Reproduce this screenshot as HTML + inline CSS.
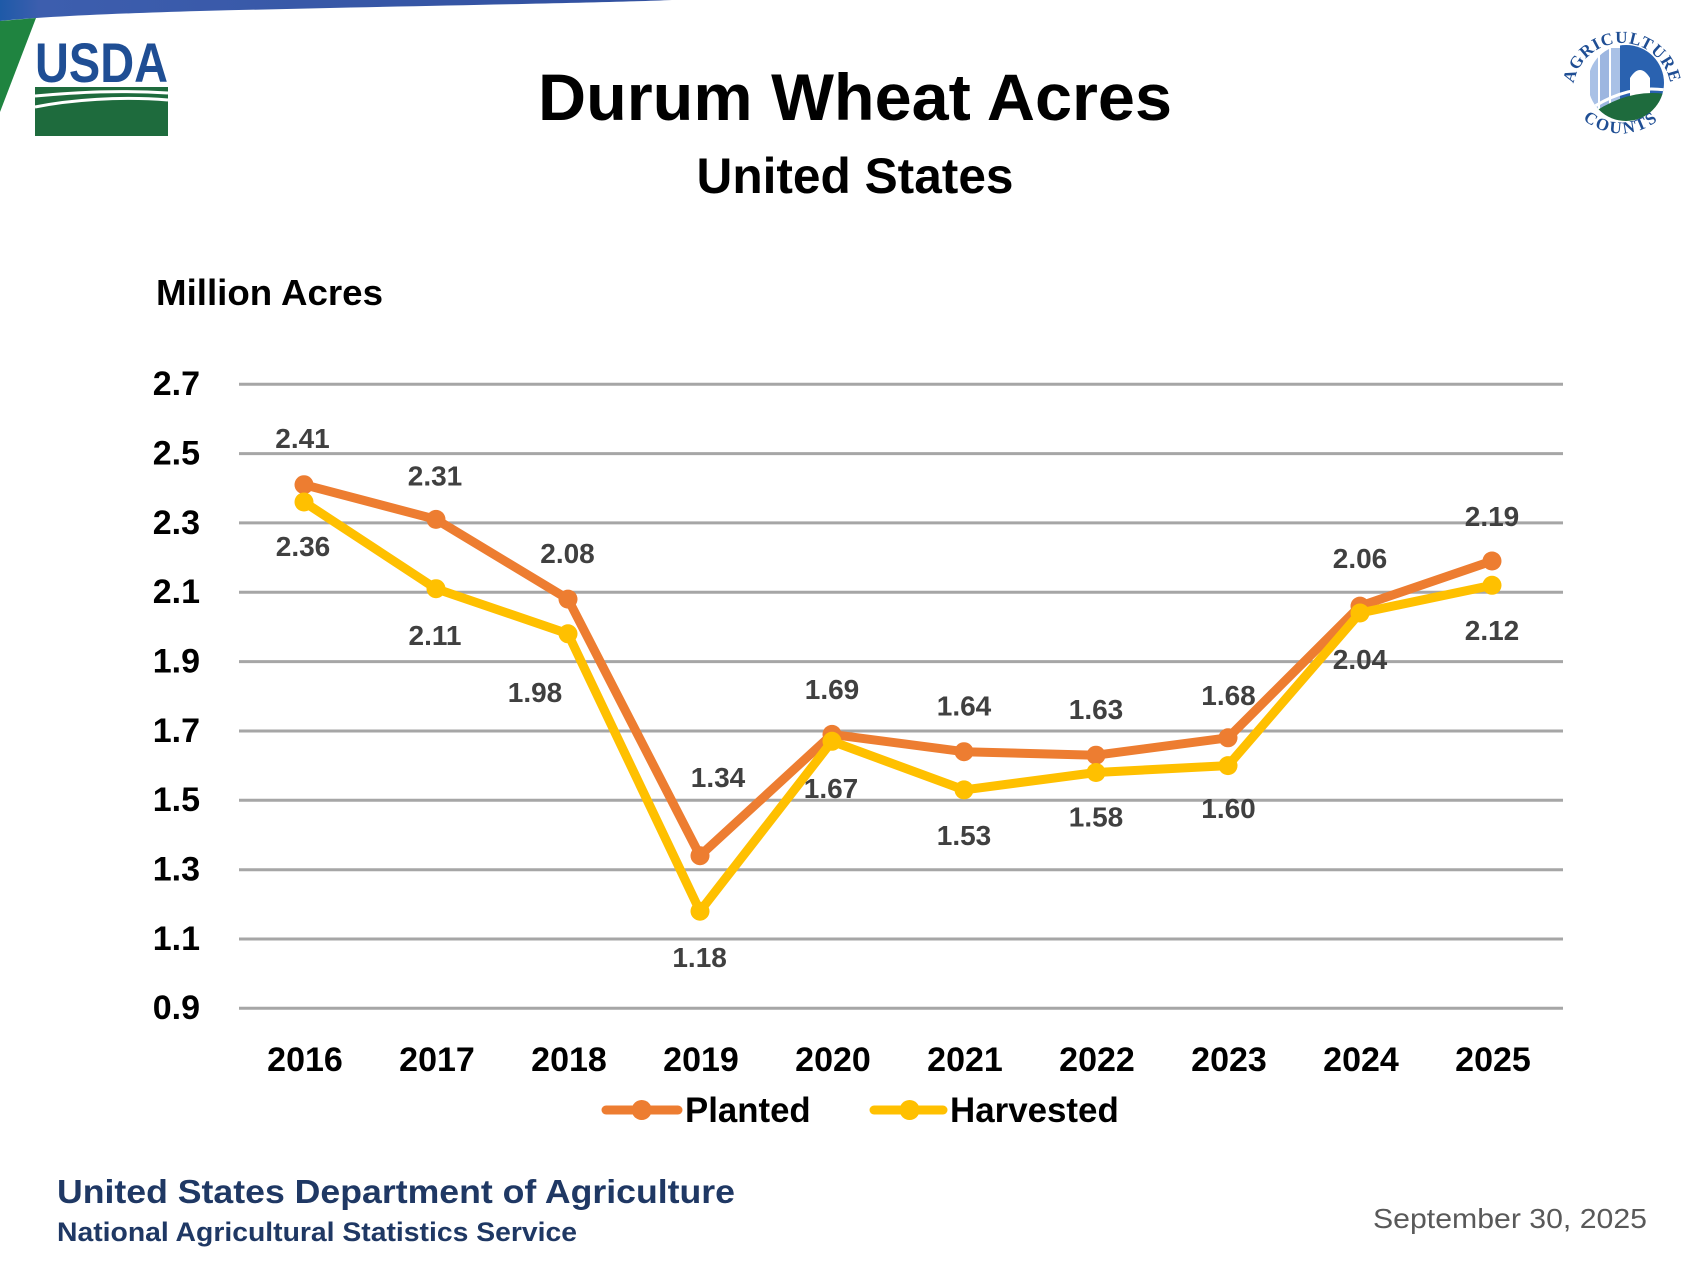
<!DOCTYPE html>
<html>
<head>
<meta charset="utf-8">
<style>
html,body{margin:0;padding:0;background:#fff;}
svg{display:block;}
</style>
</head>
<body>
<svg width="1707" height="1280" viewBox="0 0 1707 1280" xmlns="http://www.w3.org/2000/svg" font-family="'Liberation Sans', sans-serif">
<defs>
  <linearGradient id="band" x1="0" y1="0" x2="1" y2="0">
    <stop offset="0" stop-color="#1e5aa8"/>
    <stop offset="0.06" stop-color="#3d5eae"/>
    <stop offset="1" stop-color="#31509f"/>
  </linearGradient>
  <clipPath id="agc"><circle cx="1626" cy="83" r="38"/></clipPath>
  <path id="arcTop" d="M1573.5,85 A49,49 0 0 1 1670.5,85"/>
  <path id="arcBot" d="M1576,112 A58,58 0 0 0 1666,112"/>
</defs>
<rect width="1707" height="1280" fill="#ffffff"/>

<!-- top banner -->
<path d="M0,0 L672,0 C600,3 400,6 200,11 C100,14 40,17 0,21 Z" fill="url(#band)"/>
<path d="M0,21 L36,18 L0,112 Z" fill="#1f8440"/>

<!-- USDA logo -->
<text x="35" y="82" font-size="56" font-weight="bold" fill="#1f4e94" textLength="133" lengthAdjust="spacingAndGlyphs">USDA</text>
<rect x="35" y="87" width="133" height="49" fill="#1e6b3d"/>
<path d="M35,96 C80,92 120,90 168,93" stroke="#fff" stroke-width="3" fill="none"/>
<path d="M35,107 C70,100 120,96 168,100" stroke="#fff" stroke-width="3" fill="none"/>

<!-- Agriculture Counts logo -->
<g clip-path="url(#agc)">
  <rect x="1586" y="43" width="80" height="82" fill="#ffffff"/>
  <rect x="1590" y="50" width="8" height="70" fill="#a9c1e6"/>
  <rect x="1600" y="44" width="9" height="76" fill="#9db6e0"/>
  <rect x="1611" y="48" width="9" height="72" fill="#a9c1e6"/>
  <rect x="1620" y="43" width="46" height="60" fill="#2a62b0"/>
  <path d="M1630,100 L1630,78 Q1640,62 1650,78 L1650,100 Z" fill="#ffffff"/>
  <path d="M1586,118 Q1625,88 1666,94 L1666,125 L1586,125 Z" fill="#1e6b3d"/>
  <path d="M1586,112 Q1625,84 1666,90" stroke="#fff" stroke-width="3" fill="none"/>
</g>
<text font-family="'Liberation Serif', serif" font-weight="bold" font-size="17" fill="#1f4e94" letter-spacing="1"><textPath href="#arcTop" startOffset="50%" text-anchor="middle">AGRICULTURE</textPath></text>
<text font-family="'Liberation Serif', serif" font-weight="bold" font-size="17" fill="#1f4e94" letter-spacing="2"><textPath href="#arcBot" startOffset="50%" text-anchor="middle">COUNTS</textPath></text>

<!-- titles -->
<text x="855" y="120" font-size="66" font-weight="bold" fill="#000" text-anchor="middle" textLength="634" lengthAdjust="spacingAndGlyphs">Durum Wheat Acres</text>
<text x="855" y="193" font-size="50" font-weight="bold" fill="#000" text-anchor="middle" textLength="317" lengthAdjust="spacingAndGlyphs">United States</text>
<text x="156" y="305" font-size="36" font-weight="bold" fill="#000" textLength="227" lengthAdjust="spacingAndGlyphs">Million Acres</text>

<!-- gridlines -->
<g stroke="#a6a6a6" stroke-width="3">
  <line x1="239" y1="384.2" x2="1563" y2="384.2"/>
  <line x1="239" y1="453.6" x2="1563" y2="453.6"/>
  <line x1="239" y1="522.9" x2="1563" y2="522.9"/>
  <line x1="239" y1="592.3" x2="1563" y2="592.3"/>
  <line x1="239" y1="661.6" x2="1563" y2="661.6"/>
  <line x1="239" y1="731.0" x2="1563" y2="731.0"/>
  <line x1="239" y1="800.3" x2="1563" y2="800.3"/>
  <line x1="239" y1="869.7" x2="1563" y2="869.7"/>
  <line x1="239" y1="939.0" x2="1563" y2="939.0"/>
  <line x1="239" y1="1008.3" x2="1563" y2="1008.3"/>
</g>

<!-- y tick labels -->
<g font-size="34" font-weight="bold" fill="#000" text-anchor="end">
  <text x="200" y="395">2.7</text>
  <text x="200" y="464.5">2.5</text>
  <text x="200" y="534">2.3</text>
  <text x="200" y="603">2.1</text>
  <text x="200" y="672.5">1.9</text>
  <text x="200" y="742">1.7</text>
  <text x="200" y="811">1.5</text>
  <text x="200" y="880.5">1.3</text>
  <text x="200" y="950">1.1</text>
  <text x="200" y="1019">0.9</text>
</g>

<!-- x labels -->
<g font-size="34" font-weight="bold" fill="#000" text-anchor="middle">
  <text x="305" y="1071">2016</text>
  <text x="437" y="1071">2017</text>
  <text x="569" y="1071">2018</text>
  <text x="701" y="1071">2019</text>
  <text x="833" y="1071">2020</text>
  <text x="965" y="1071">2021</text>
  <text x="1097" y="1071">2022</text>
  <text x="1229" y="1071">2023</text>
  <text x="1361" y="1071">2024</text>
  <text x="1493" y="1071">2025</text>
</g>

<!-- Planted series -->
<polyline fill="none" stroke="#ED7D31" stroke-width="9" stroke-linejoin="round" stroke-linecap="round"
  points="304,484.7 436,519.4 568,599.1 700,855.7 832,734.4 964,751.7 1096,755.2 1228,737.8 1360,606.1 1492,561.0"/>
<g fill="#ED7D31">
  <circle cx="304" cy="484.7" r="9.5"/>
  <circle cx="436" cy="519.4" r="9.5"/>
  <circle cx="568" cy="599.1" r="9.5"/>
  <circle cx="700" cy="855.7" r="9.5"/>
  <circle cx="832" cy="734.4" r="9.5"/>
  <circle cx="964" cy="751.7" r="9.5"/>
  <circle cx="1096" cy="755.2" r="9.5"/>
  <circle cx="1228" cy="737.8" r="9.5"/>
  <circle cx="1360" cy="606.1" r="9.5"/>
  <circle cx="1492" cy="561.0" r="9.5"/>
</g>

<!-- Harvested series -->
<polyline fill="none" stroke="#FFC000" stroke-width="9" stroke-linejoin="round" stroke-linecap="round"
  points="304,502.0 436,588.7 568,633.8 700,911.2 832,741.3 964,789.9 1096,772.5 1228,765.6 1360,613.0 1492,585.3"/>
<g fill="#FFC000">
  <circle cx="304" cy="502.0" r="9.5"/>
  <circle cx="436" cy="588.7" r="9.5"/>
  <circle cx="568" cy="633.8" r="9.5"/>
  <circle cx="700" cy="911.2" r="9.5"/>
  <circle cx="832" cy="741.3" r="9.5"/>
  <circle cx="964" cy="789.9" r="9.5"/>
  <circle cx="1096" cy="772.5" r="9.5"/>
  <circle cx="1228" cy="765.6" r="9.5"/>
  <circle cx="1360" cy="613.0" r="9.5"/>
  <circle cx="1492" cy="585.3" r="9.5"/>
</g>

<!-- data labels -->
<g font-size="28" font-weight="bold" fill="#404040" text-anchor="middle">
  <text x="302.5" y="448">2.41</text>
  <text x="435" y="485.5">2.31</text>
  <text x="567.5" y="563">2.08</text>
  <text x="718" y="787">1.34</text>
  <text x="832" y="699">1.69</text>
  <text x="964" y="715.5">1.64</text>
  <text x="1096" y="719">1.63</text>
  <text x="1228.5" y="705">1.68</text>
  <text x="1360" y="568">2.06</text>
  <text x="1492" y="526">2.19</text>

  <text x="303" y="556">2.36</text>
  <text x="435" y="645">2.11</text>
  <text x="535" y="702">1.98</text>
  <text x="699.6" y="967">1.18</text>
  <text x="831" y="798">1.67</text>
  <text x="964" y="845">1.53</text>
  <text x="1096" y="826.7">1.58</text>
  <text x="1228.5" y="818">1.60</text>
  <text x="1360" y="669">2.04</text>
  <text x="1492" y="640">2.12</text>
</g>

<!-- legend -->
<line x1="606" y1="1110" x2="678" y2="1110" stroke="#ED7D31" stroke-width="9" stroke-linecap="round"/>
<circle cx="641.7" cy="1110" r="10" fill="#ED7D31"/>
<text x="685" y="1122" font-size="35" font-weight="bold" fill="#000" textLength="125.7" lengthAdjust="spacingAndGlyphs">Planted</text>
<line x1="874" y1="1110" x2="943" y2="1110" stroke="#FFC000" stroke-width="9" stroke-linecap="round"/>
<circle cx="909.6" cy="1110" r="10" fill="#FFC000"/>
<text x="950" y="1122" font-size="35" font-weight="bold" fill="#000" textLength="168.8" lengthAdjust="spacingAndGlyphs">Harvested</text>

<!-- footer -->
<text x="57" y="1203" font-size="33" font-weight="bold" fill="#1f3864" textLength="678" lengthAdjust="spacingAndGlyphs">United States Department of Agriculture</text>
<text x="57" y="1241" font-size="27" font-weight="bold" fill="#1f3864" textLength="520" lengthAdjust="spacingAndGlyphs">National Agricultural Statistics Service</text>
<text x="1647" y="1228" font-size="28" fill="#595959" text-anchor="end" textLength="274" lengthAdjust="spacingAndGlyphs">September 30, 2025</text>
</svg>
</body>
</html>
